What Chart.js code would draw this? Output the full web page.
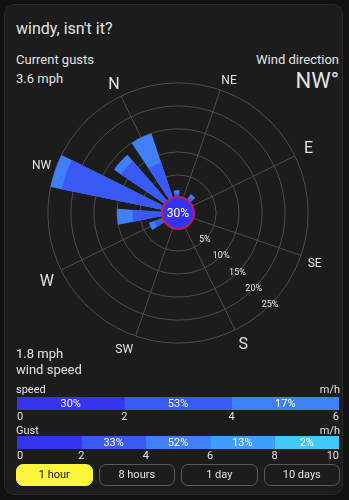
<!DOCTYPE html>
<html>
<head>
<meta charset="utf-8">
<script src="https://cdn.jsdelivr.net/npm/chart.js@4.4.1/dist/chart.umd.min.js"></script>
<style>
  html, body { margin: 0; padding: 0; background: #111111; }
  body { width: 349px; height: 500px; position: relative; overflow: hidden; font-family: Roboto, sans-serif; color: #e3e3e3; }
  .card { position: absolute; left: 4px; top: 4px; width: 339px; height: 491px; background: #1c1c1c; border: 1px solid #2a2a2a; border-radius: 10px; box-sizing: border-box; }
  .t { position: absolute; white-space: nowrap; }
  canvas { position: absolute; }
  .btns { position: absolute; left: 16px; top: 464px; width: 324px; height: 22px; display: flex; gap: 6px; }
  .btns div { flex: 1; height: 22px; box-sizing: border-box; border: 1px solid #5a5a5a; border-radius: 7px; font-size: 11px; line-height: 20px; text-align: center; color: #e3e3e3; }
  .btns div.on { background: #fdf63c; border-color: #fdf63c; color: #111; }
</style>
</head>
<body>
<div class="card"></div>
<div class="t" style="left:16px; top:21px; font-size:16px; line-height:16px;">windy, isn't it?</div>
<div class="t" style="left:16px; top:53px; font-size:13px; line-height:13px;">Current gusts</div>
<div class="t" style="left:16px; top:72px; font-size:13px; line-height:13px;">3.6 mph</div>
<div class="t" style="right:10px; top:53px; font-size:13px; line-height:13px;">Wind direction</div>
<div class="t" style="right:10px; top:70px; font-size:22px; line-height:22px;">NW°</div>

<canvas id="rose" width="292" height="292" style="left:31px; top:68px;"></canvas>

<div class="t" style="left:16px; top:347px; font-size:13px; line-height:13px;">1.8 mph</div>
<div class="t" style="left:16px; top:363px; font-size:13px; line-height:13px;">wind speed</div>

<div class="t" style="left:16px; top:384px; font-size:11px; line-height:11px;">speed</div>
<div class="t" style="right:9px; top:384px; font-size:11px; line-height:11px;">m/h</div>
<canvas id="speedBar" width="324" height="26" style="left:16px; top:397px;"></canvas>

<div class="t" style="left:16px; top:425px; font-size:11px; line-height:11px;">Gust</div>
<div class="t" style="right:9px; top:425px; font-size:11px; line-height:11px;">m/h</div>
<canvas id="gustBar" width="324" height="26" style="left:16px; top:436px;"></canvas>

<div class="btns">
  <div class="on">1 hour</div><div>8 hours</div><div>1 day</div><div>10 days</div>
</div>

<script>
// 16 compass sectors, clockwise from north
const directions = ['N', 'NNE', 'NE', 'ENE', 'E', 'ESE', 'SE', 'SSE', 'S', 'SSW', 'SW', 'WSW', 'W', 'WNW', 'NW', 'NNW'];
const mainDirections = ['N', 'NE', 'E', 'SE', 'S', 'SW', 'W', 'NW'];

// share of time (%) per direction, by speed band
const band2to4 = [8.3, 1.0, 0, 1.0, 0, 0, 0, 0, 0, 0, 0, 0, 2.2, 6.6, 22.5, 11.7];
const band4to6 = [6.7, 0.7, 0, 0.7, 0, 0, 0, 0, 0, 0, 0, 0, 1.2, 3.4, 2.5, 1.8];
const calmPercent = 30;
const ringTicks = [5, 10, 15, 20, 25];

// bottom bars
const speedRanges = [0, 2, 4, 6];
const speedShares = [30, 53, 17];
const gustRanges = [0, 2, 4, 6, 8, 10];
const gustShares = [0, 33, 52, 13, 2];

const rangeColors = ['#3434f0', '#3a5af5', '#3f7ffa', '#3f9ffa', '#42c8fb'];
const gridColor = '#4e4e4e';
const textColor = '#e3e3e3';

const NORTH = -26;        // compass rotation (deg)
const SECTOR = 360 / directions.length;
const WEDGE = 15;         // drawn width of a sector
const RING_MIN = -3.26;   // leaves room for the calm circle

// label placement tweaks [padding px, line height] so they sit like the card's
const labelPlace = { N: [3, 1], NE: [3, 1], E: [10, 0.3], SE: [7, 1], S: [8, 1], SW: [8, 1], W: [8, 1], NW: [4, 0.6] };

Chart.defaults.font.family = 'Roboto';

// every sector is [half gap, wedge, half gap]
const spread = arr => arr.flatMap(v => [0, v, 0]);
const wedgeAngle = c => (c.dataIndex % 3 === 1 ? WEDGE : (SECTOR - WEDGE) / 2);
const wedgeColor = col => c => (c.dataIndex % 3 === 1 ? col : 'rgba(0,0,0,0)');

const totals = band2to4.map((v, i) => v + band4to6[i]);
// labels every half sector so that odd indices sit on the sector centres
const compassLabels = directions.flatMap(d => ['', mainDirections.includes(d) ? d : '']);

const roseOverlay = {
  id: 'roseOverlay',
  afterDatasetsDraw(chart) {
    const r = chart.scales.r;
    const ctx = chart.ctx;
    ctx.save();
    ctx.textAlign = 'center';
    ctx.textBaseline = 'middle';
    ctx.font = '9px Roboto';
    ctx.fillStyle = textColor;
    const a = 135 * Math.PI / 180;
    ringTicks.forEach(v => {
      const d = r.getDistanceFromCenterForValue(v);
      ctx.fillText(v + '%', r.xCenter + d * Math.sin(a), r.yCenter - d * Math.cos(a));
    });
    const cr = r.getDistanceFromCenterForValue(0) + 1;
    ctx.beginPath();
    ctx.arc(r.xCenter, r.yCenter, cr, 0, Math.PI * 2);
    ctx.fillStyle = rangeColors[0];
    ctx.fill();
    ctx.lineWidth = 2;
    ctx.strokeStyle = '#c8185e';
    ctx.stroke();
    ctx.fillStyle = '#ffffff';
    ctx.font = '12px Roboto';
    ctx.fillText(calmPercent + '%', r.xCenter, r.yCenter + 0.5);
    ctx.restore();
  }
};

new Chart(document.getElementById('rose'), {
  type: 'polarArea',
  data: {
    labels: compassLabels,
    datasets: [
      { data: spread(band2to4), backgroundColor: wedgeColor(rangeColors[1]), angle: wedgeAngle, borderWidth: 0 },
      { data: spread(totals), backgroundColor: wedgeColor(rangeColors[2]), angle: wedgeAngle, borderWidth: 0 }
    ]
  },
  options: {
    responsive: false,
    animation: false,
    plugins: { legend: { display: false }, tooltip: { enabled: false } },
    scales: {
      r: {
        min: RING_MIN,
        max: 25,
        startAngle: NORTH - SECTOR / 2,
        ticks: { display: false, stepSize: 5 },
        grid: { circular: true, color: gridColor, lineWidth: 1 },
        angleLines: { display: true, color: c => (c.label ? gridColor : 'rgba(0,0,0,0)'), lineWidth: 1 },
        pointLabels: {
          display: true,
          color: textColor,
          padding: c => (labelPlace[c.label] || [0])[0],
          font: c => ({
            size: ['N', 'E', 'S', 'W'].includes(c.label) ? 16 : 12,
            lineHeight: (labelPlace[c.label] || [0, 1])[1]
          })
        }
      }
    }
  },
  plugins: [roseOverlay]
});

const shareLabels = {
  id: 'shareLabels',
  afterDatasetsDraw(chart) {
    const ctx = chart.ctx;
    ctx.save();
    ctx.font = '11px Roboto';
    ctx.fillStyle = '#ffffff';
    ctx.textAlign = 'center';
    ctx.textBaseline = 'middle';
    chart.data.datasets.forEach((ds, i) => {
      if (!ds.share) return;
      const el = chart.getDatasetMeta(i).data[0];
      ctx.fillText(ds.share + '%', (el.x + el.base) / 2, el.y + 0.5);
    });
    ctx.restore();
  }
};

function rangeBar(id, ranges, shares) {
  new Chart(document.getElementById(id), {
    type: 'bar',
    data: {
      labels: [''],
      datasets: shares.map((s, i) => ({
        data: [[ranges[i], ranges[i + 1]]],
        share: s,
        backgroundColor: rangeColors[i],
        borderWidth: 0,
        borderSkipped: false,
        grouped: false,
        barPercentage: 1,
        categoryPercentage: 1
      }))
    },
    options: {
      indexAxis: 'y',
      responsive: false,
      animation: false,
      plugins: { legend: { display: false }, tooltip: { enabled: false } },
      scales: {
        x: {
          min: ranges[0],
          max: ranges[ranges.length - 1],
          ticks: { stepSize: 2, align: 'inner', color: textColor, font: { size: 11 }, padding: 1 },
          grid: { display: false, drawTicks: false },
          border: { display: false }
        },
        y: { display: false }
      }
    },
    plugins: [shareLabels]
  });
}

rangeBar('speedBar', speedRanges, speedShares);
rangeBar('gustBar', gustRanges, gustShares);
</script>
</body>
</html>
